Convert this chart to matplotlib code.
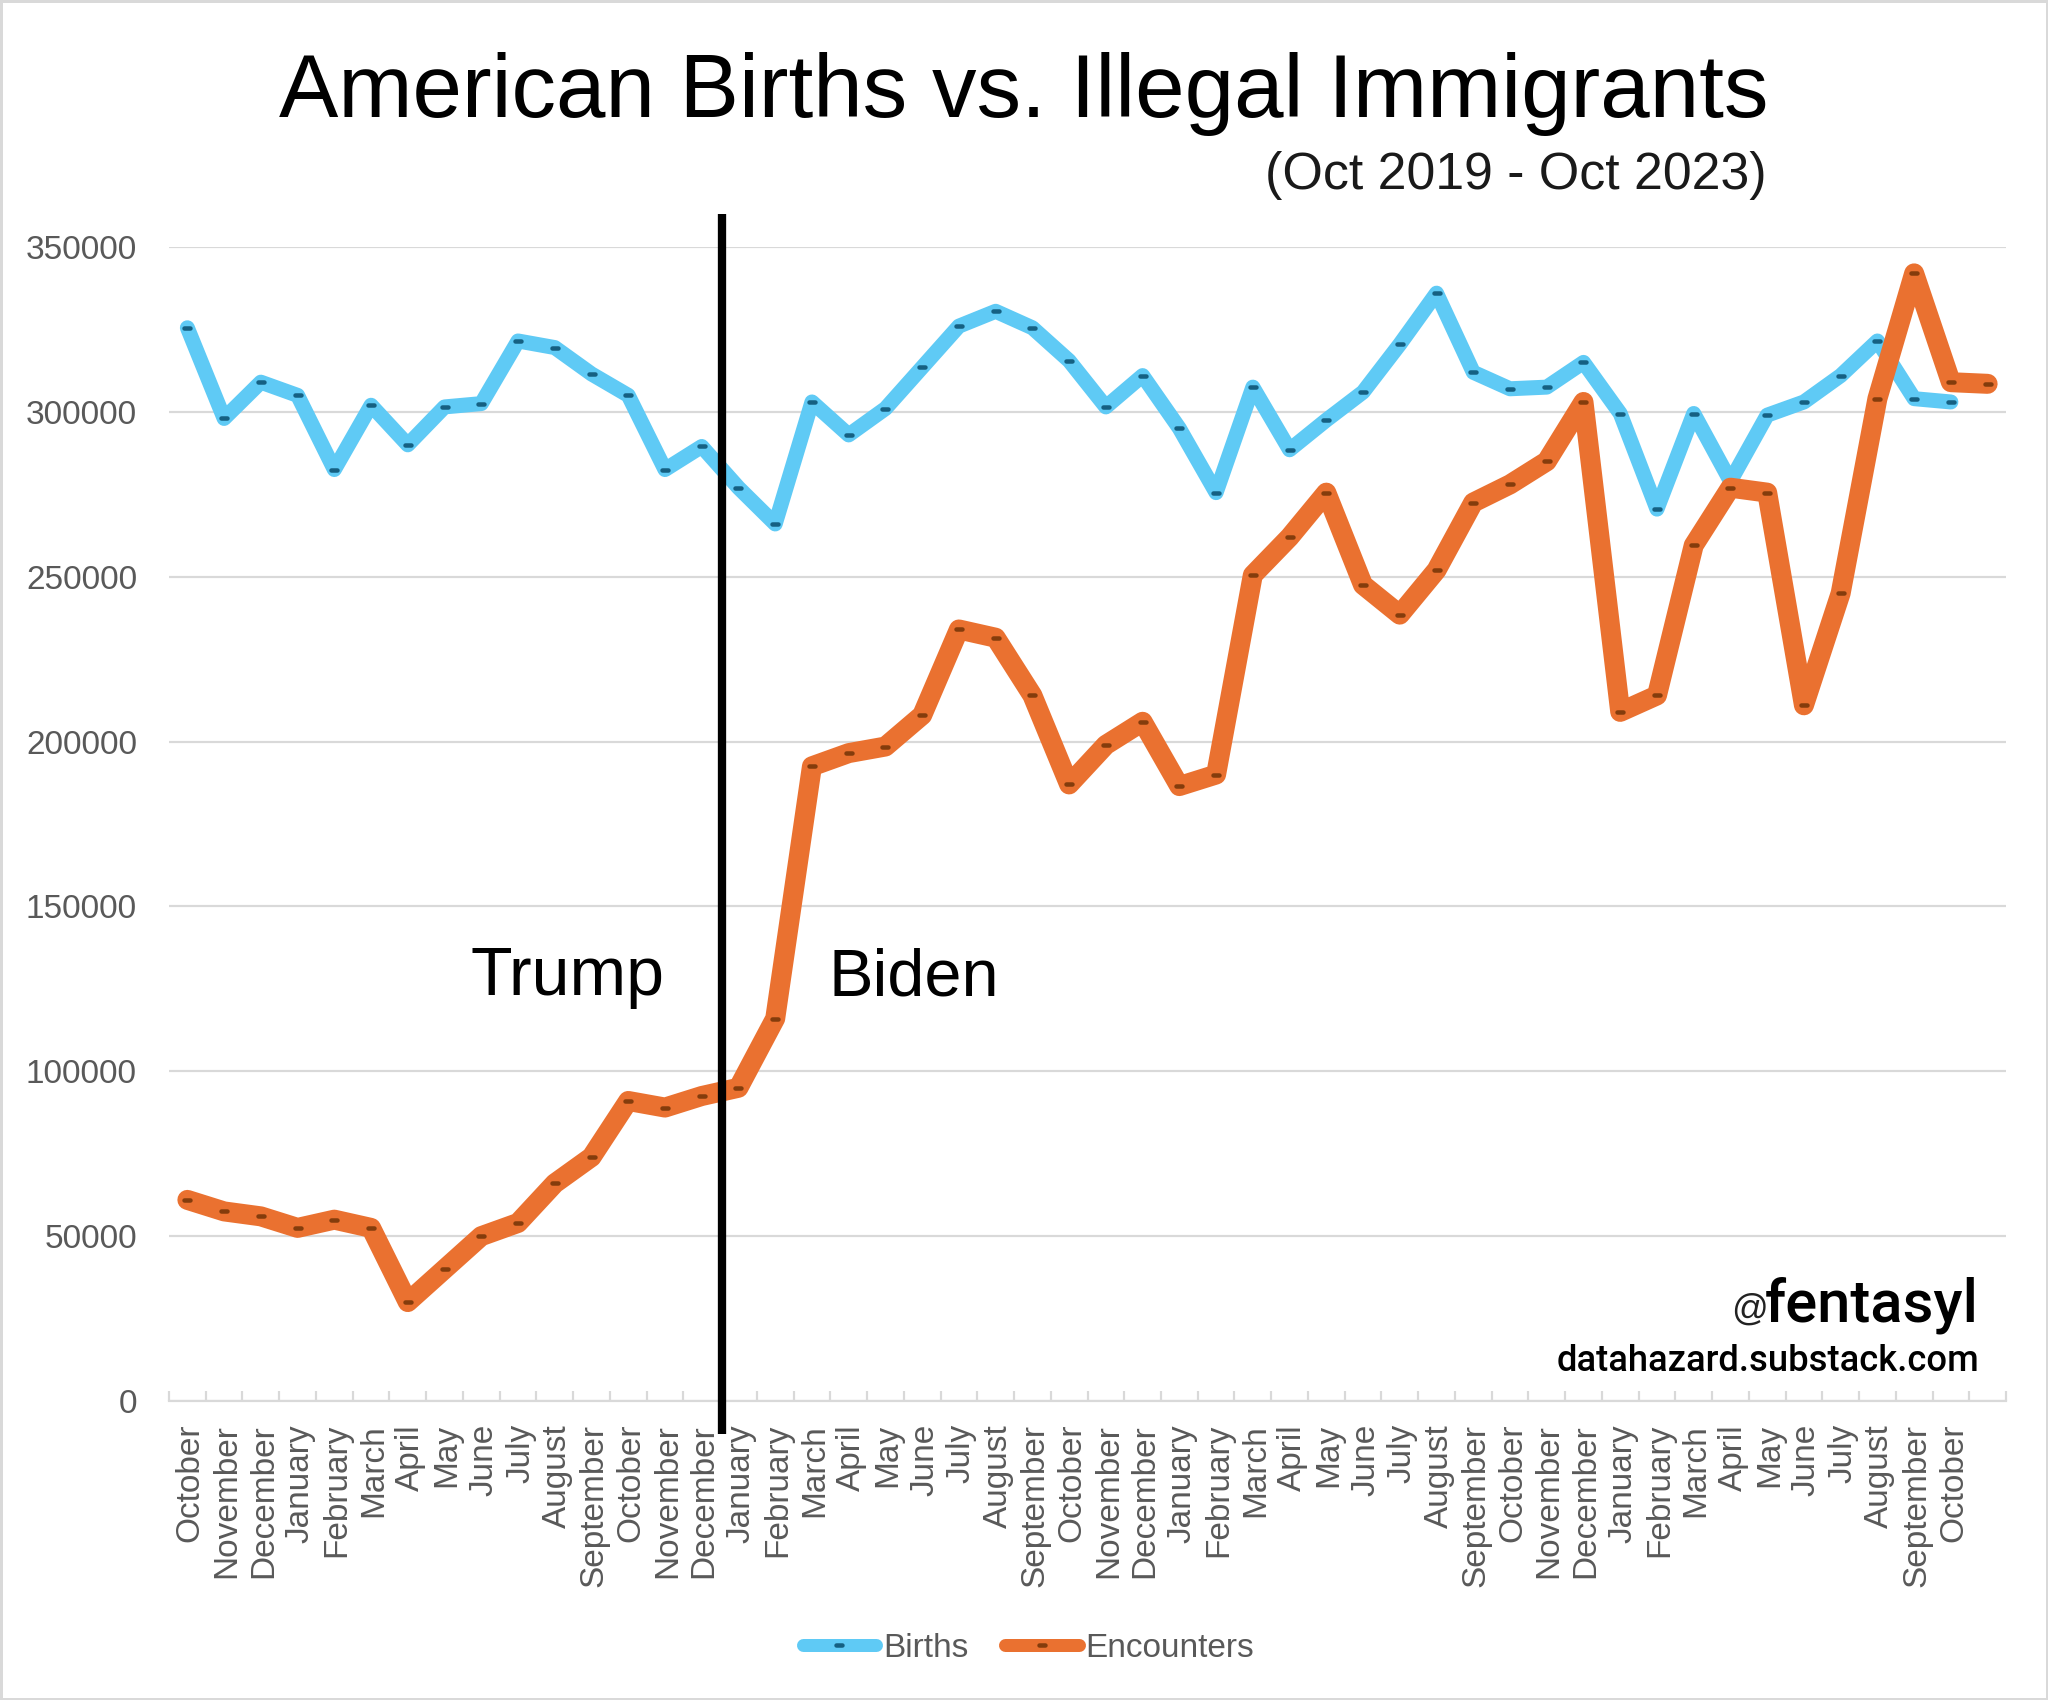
import matplotlib
matplotlib.use('Agg')
import matplotlib.pyplot as plt
from matplotlib.lines import Line2D
from matplotlib.markers import MarkerStyle
from matplotlib.patches import Rectangle
from matplotlib.transforms import ScaledTranslation

months = ['October', 'November', 'December', 'January', 'February', 'March', 'April', 'May', 'June',
          'July', 'August', 'September', 'October', 'November', 'December', 'January', 'February',
          'March', 'April', 'May', 'June', 'July', 'August', 'September', 'October', 'November',
          'December', 'January', 'February', 'March', 'April', 'May', 'June', 'July', 'August',
          'September', 'October', 'November', 'December', 'January', 'February', 'March', 'April',
          'May', 'June', 'July', 'August', 'September', 'October', '']

births = [325500, 298000, 309000, 305000, 282500, 302000, 290000, 301500, 302500, 321500,
          319500, 311500, 305000, 282500, 289500, 277000, 266000, 303000, 293000, 301000,
          313500, 326000, 330500, 325500, 315500, 301500, 311000, 295000, 275500, 307500,
          288500, 297500, 306000, 320500, 336000, 312000, 307000, 307500, 315000, 299500,
          270500, 299500, 279000, 299000, 303000, 311000, 321500, 304000, 303000]

encounters = [61000, 57500, 56000, 52500, 55000, 52500, 30000, 40000, 50000, 54000,
              66000, 74000, 91000, 89000, 92500, 95000, 116000, 192500, 196500, 198500,
              208000, 234000, 231500, 214000, 187000, 199000, 206000, 186500, 190000, 250500,
              262000, 275500, 247500, 238500, 252000, 272500, 278000, 285000, 303000, 209000,
              214000, 259500, 277000, 275500, 211000, 245000, 304000, 342000, 309000, 308500]

W, H = 2048, 1700
PX = 72 / 100  # points per pixel at dpi 100
GREY = '#595959'
LIGHT = '#d9d9d9'
BLUE = '#5fcaf5'
ORANGE = '#ea7130'
DARK_BLUE = '#156082'
DARK_ORANGE = '#843c0c'
SANS = 'Liberation Sans'

fig = plt.figure(figsize=(W / 100, H / 100), dpi=100, facecolor='white')
ax = fig.add_axes([169 / W, 1 - 1401 / H, (2006 - 169) / W, (1401 - 247) / H])


def px_text(x, y, s, **kw):
    # position given in pixels from the top left of the image
    return fig.text(x / W, 1 - y / H, s, va='baseline', **kw)


def dash(color):
    return dict(marker=MarkerStyle('_', capstyle='round'), markersize=5.5 * PX,
                markeredgewidth=4.5 * PX, markeredgecolor=color)


ax.plot(range(len(births)), births, color=BLUE, lw=15 * PX,
        solid_joinstyle='round', solid_capstyle='round', **dash(DARK_BLUE), zorder=3)
ax.plot(range(len(encounters)), encounters, color=ORANGE, lw=20 * PX,
        solid_joinstyle='round', solid_capstyle='round', **dash(DARK_ORANGE), zorder=4)

ax.set_xlim(-0.5, len(months) - 0.5)
ax.set_ylim(0, 350000)
ax.set_yticks(range(0, 350001, 50000))
ax.yaxis.grid(True, color=LIGHT, lw=2.2 * PX)
ax.set_axisbelow(True)

# ticks sit between the categories, labels in the middle of them
ax.set_xticks([i - 0.5 for i in range(len(months) + 1)])
ax.set_xticklabels([])
ax.set_xticks(range(len(months)), months, minor=True, rotation=90, ha='center', va='top',
              fontsize=24, color=GREY, family=SANS)
ax.tick_params(axis='x', which='major', direction='in', length=10 * PX, width=2.2 * PX, color=LIGHT)
ax.tick_params(axis='x', which='minor', length=0, pad=23 * PX)
ax.tick_params(axis='y', length=0, pad=32 * PX, labelsize=24, labelcolor=GREY)
for lab in ax.get_yticklabels():
    lab.set_family(SANS)
# descender room pushes rotated labels left of the category centre
nudge = ScaledTranslation(2.5 / 100, 0, fig.dpi_scale_trans)
for lab in ax.get_xticklabels(minor=True):
    lab.set_transform(lab.get_transform() + nudge)

for side in ['top', 'left', 'right']:
    ax.spines[side].set_visible(False)
ax.spines['bottom'].set_color(LIGHT)
ax.spines['bottom'].set_linewidth(2.2 * PX)

# term boundary, runs past the plot area on both ends
ax.plot([14.55, 14.55], [-10000, 360000], color='black', lw=8.3 * PX, clip_on=False,
        solid_capstyle='butt', zorder=5)

px_text(1024, 117, 'American Births vs. Illegal Immigrants', ha='center', fontsize=64.1, family=SANS)
px_text(1767, 189, '(Oct 2019 - Oct 2023)', ha='right', fontsize=37.4, family=SANS, color='#1a1a1a')
px_text(471, 995, 'Trump', ha='left', fontsize=49, family=SANS)
px_text(829, 995, 'Biden', ha='left', fontsize=48, family=SANS)
px_text(1979, 1322, 'fentasyl', ha='right', fontsize=43, family='Roboto', weight='medium')
px_text(1768, 1320, '@', ha='right', fontsize=26, family=SANS, color='#222222')
px_text(1979, 1371, 'datahazard.substack.com', ha='right', fontsize=26.2, family='Roboto', weight='medium')

handles = [Line2D([], [], color=BLUE, lw=13 * PX, solid_capstyle='round', **dash(DARK_BLUE)),
           Line2D([], [], color=ORANGE, lw=13 * PX, solid_capstyle='round', **dash(DARK_ORANGE))]
fig.legend(handles, ['Births', 'Encounters'], loc='center', bbox_to_anchor=(1028.5 / W, 1 - 1648.5 / H),
           ncols=2, frameon=False, handlelength=2.2, handletextpad=0.2, columnspacing=1.12,
           borderpad=0, borderaxespad=0, prop={'family': SANS, 'size': 24}, labelcolor=GREY)

fig.add_artist(Rectangle((0, 0), 1, 1, transform=fig.transFigure, fill=False, edgecolor=LIGHT, lw=5 * PX))

fig.savefig('out.png', dpi=100)
